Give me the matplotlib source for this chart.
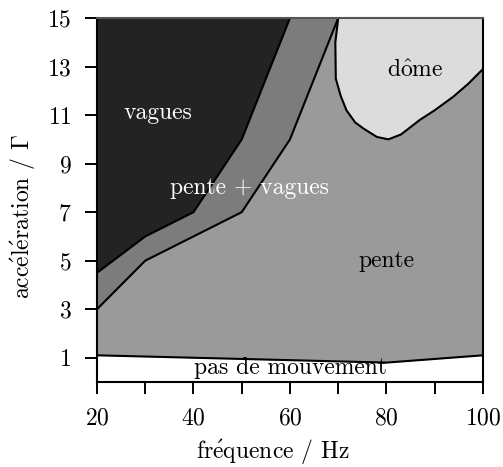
import matplotlib
matplotlib.use("Agg")
import matplotlib.pyplot as plt

plt.rcParams['font.family'] = ['cmr10', 'DejaVu Serif']
plt.rcParams['mathtext.fontset'] = 'cm'
plt.rcParams['axes.formatter.use_mathtext'] = True

# frontieres du diagramme de phase (frequence en Hz, acceleration Gamma)
freq_vagues = [20, 30, 40, 50, 60]
gamma_vagues = [4.5, 6, 7, 10, 15]

freq_pente_vagues = [20, 30, 40, 50, 60, 70]
gamma_pente_vagues = [3, 5, 6, 7, 10, 15]

freq_dome = [70, 69.4, 69.5, 70.5, 71.7, 73.5, 75.2, 78, 80.4, 83, 86.9, 90, 93.8, 97, 100]
gamma_dome = [15, 14, 12.5, 11.8, 11.2, 10.7, 10.45, 10.1, 10.0, 10.2, 10.8, 11.2, 11.75, 12.3, 12.9]

freq_seuil = [20, 40, 60, 80, 100]
gamma_seuil = [1.1, 1.0, 0.9, 0.8, 1.1]

xticks = [20, 40, 60, 80, 100]
yticks = [1, 3, 5, 7, 9, 11, 13, 15]

fig = plt.figure(figsize=(5.03, 4.67), dpi=100)
ax = fig.add_axes([0.1928, 0.182, 0.7674, 0.7794])

# zones remplies, de la plus basse a la plus haute
ax.fill_between(freq_seuil, gamma_seuil, 15, color='#9a9a9a', lw=0)
ax.fill_between(freq_pente_vagues, gamma_pente_vagues, 15, color='#7c7c7c', lw=0)
ax.fill_between(freq_vagues, gamma_vagues, 15, color='#232323', lw=0)
ax.fill(freq_dome + [100], gamma_dome + [15], color='#dcdcdc', lw=0)

for fx, gy in [(freq_seuil, gamma_seuil), (freq_pente_vagues, gamma_pente_vagues),
               (freq_vagues, gamma_vagues), (freq_dome, gamma_dome)]:
    ax.plot(fx, gy, color='black', lw=1.5, solid_joinstyle='round')

# accents en mathtext pour rester dans la police cm
ax.text(32.6, 11.1, 'vagues', color='white', fontsize=17, ha='center', va='center')
ax.text(51.7, 8.0, 'pente + vagues', color='white', fontsize=17, ha='center', va='center')
ax.text(85.9, 12.85, r'd$\hat{\mathrm{o}}$me', color='black', fontsize=17, ha='center', va='center')
ax.text(80, 5.0, 'pente', color='black', fontsize=17, ha='center', va='center')
ax.text(60, 0.6, 'pas de mouvement', color='black', fontsize=17, ha='center', va='center')

ax.set_xlim(20, 100)
ax.set_ylim(0, 15)
ax.set_xticks(xticks)
ax.set_xticks([30, 50, 70, 90], minor=True)
ax.set_yticks(yticks)
ax.tick_params(which='both', direction='out', length=8.5, width=1.4, labelsize=17, pad=10)

for side in ['left', 'bottom', 'right']:
    ax.spines[side].set_linewidth(1.5)
ax.spines['top'].set_linewidth(1.5)
ax.spines['top'].set_color('#555555')

ax.set_xlabel(r'fr$\acute{\mathrm{e}}$quence / Hz', fontsize=17, va='center')
ax.set_ylabel(r'acc$\acute{\mathrm{e}}$l$\acute{\mathrm{e}}$ration / $\Gamma$', fontsize=17, va='center')
ax.xaxis.set_label_coords(0.456, -0.192)
ax.yaxis.set_label_coords(-0.194, 0.456)

fig.savefig('out.png', dpi=100)
